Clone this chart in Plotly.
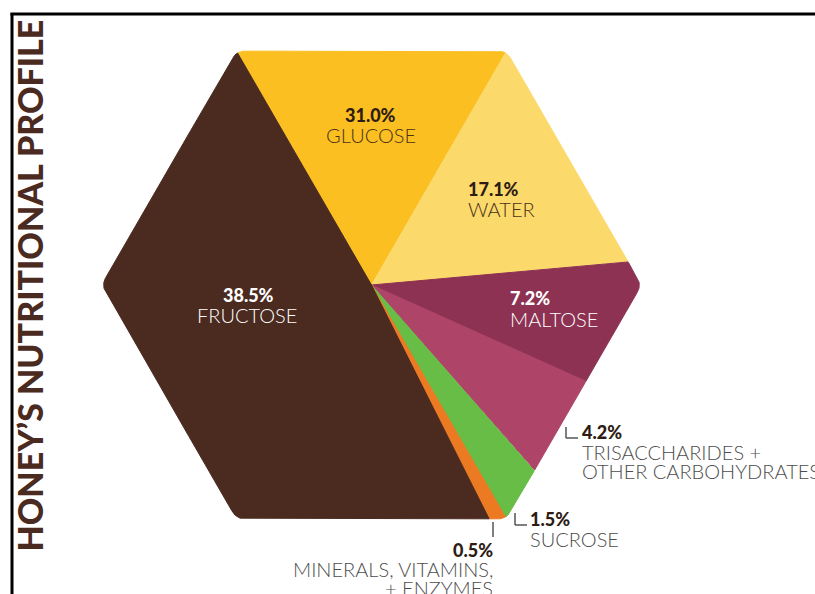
import numpy as np
import plotly.graph_objects as go

# ---------------- data ----------------
# components listed clockwise from the top-left corner of the hexagon
components = ["GLUCOSE", "WATER", "MALTOSE", "TRISACCHARIDES + OTHER CARBOHYDRATES",
              "SUCROSE", "MINERALS, VITAMINS, + ENZYMES", "FRUCTOSE"]
percent = [31.0, 17.1, 7.2, 4.2, 1.5, 0.5, 38.5]
# angular extent of each slice as drawn in the (not-to-scale) infographic, degrees
slice_span_deg = [60.0, 54.7, 29.5, 24.4, 11.4, 3.3, 176.7]
title_text = "HONEY\u2019S NUTRITIONAL PROFILE"

# ---------------- style / layout ----------------
colors = ["#fbbf22", "#fcd96b", "#8d3252", "#ae4468", "#67bd45", "#ec7a23", "#4b2a1f"]
W, H = 815, 594
CX, CY, RPX = 371.5, 285.0, 270.0   # hexagon centre and circumradius in px
START_DEG = 120.0                    # first slice starts at the top-left corner
CORNER = 14.0 / RPX                  # corner rounding radius (units of R)


def to_data(px, py):
    return (px - CX) / RPX, (CY - py) / RPX


def rounded_hex_profile(rc):
    d = rc / np.sin(np.pi / 3)
    pts = []
    for k in range(6):
        th = np.deg2rad(60 * k)
        c = (1 - d) * np.array([np.cos(th), np.sin(th)])
        a = np.linspace(th - np.pi / 6, th + np.pi / 6, 80)
        arc = c[:, None] + rc * np.vstack([np.cos(a), np.sin(a)])
        pts.append(arc.T)
        th2 = np.deg2rad(60 * (k + 1))
        c2 = (1 - d) * np.array([np.cos(th2), np.sin(th2)])
        a2 = th2 - np.pi / 6
        p_end = arc[:, -1]
        p_next = c2 + rc * np.array([np.cos(a2), np.sin(a2)])
        t = np.linspace(0, 1, 300)[1:-1]
        pts.append(p_end[None, :] * (1 - t[:, None]) + p_next[None, :] * t[:, None])
    P = np.vstack(pts)
    th = np.arctan2(P[:, 1], P[:, 0])
    r = np.hypot(P[:, 0], P[:, 1])
    o = np.argsort(th)
    return th[o], r[o]


TH, RR = rounded_hex_profile(CORNER)


def radius_at(theta):
    t = (theta + np.pi) % (2 * np.pi) - np.pi
    return np.interp(t, TH, RR, period=2 * np.pi)


fig = go.Figure()
angle = START_DEG
for name, span, col in zip(components, slice_span_deg, colors):
    a0, a1 = angle, angle - span          # clockwise
    m = max(int(span * 6), 12)
    th = np.deg2rad(np.linspace(a0, a1, m))
    r = radius_at(th)
    xs = np.concatenate([[0], r * np.cos(th), [0]])
    ys = np.concatenate([[0], r * np.sin(th), [0]])
    fig.add_trace(go.Scatter(x=xs, y=ys, mode="lines", fill="toself",
                             fillcolor=col, line=dict(color=col, width=1),
                             hoverinfo="skip", name=name))
    angle = a1

PCT = dict(family="Lato, Roboto, sans-serif", size=18, weight=900)
NAME = dict(family="Lato, Roboto, sans-serif", size=20, weight=300)
DARK = "#2e1c14"
GREY = "#4d4d4d"

annotations = []


def add_text(text, px, py, font, color, xanchor="center"):
    x, y = to_data(px, py)
    f = dict(font)
    f["color"] = color
    annotations.append(dict(text=text, x=x, y=y, xref="x", yref="y",
                            xanchor=xanchor, yanchor="middle", showarrow=False,
                            borderpad=0, font=f))


fmt = {c: f"{p:.1f}%" for c, p in zip(components, percent)}

# inside labels
add_text(fmt["FRUCTOSE"], 248, 295, PCT, "#ffffff")
add_text("FRUCTOSE", 247, 315, NAME, "#ffffff")
add_text(fmt["GLUCOSE"], 370, 115, PCT, DARK)
add_text("GLUCOSE", 371, 135, NAME, "#4a3318")
add_text(fmt["WATER"], 467, 189, PCT, DARK, "left")
add_text("WATER", 467, 209, NAME, "#4a3318", "left")
add_text(fmt["MALTOSE"], 509, 298, PCT, "#ffffff", "left")
add_text("MALTOSE", 509, 319, NAME, "#ffffff", "left")

# outside labels
add_text(fmt["TRISACCHARIDES + OTHER CARBOHYDRATES"], 581, 432, PCT, DARK, "left")
add_text("TRISACCHARIDES +", 581, 452, NAME, GREY, "left")
add_text("OTHER CARBOHYDRATES", 581, 471, NAME, GREY, "left")
add_text(fmt["SUCROSE"], 529, 519, PCT, DARK, "left")
add_text("SUCROSE", 529, 539, NAME, GREY, "left")
add_text(fmt["MINERALS, VITAMINS, + ENZYMES"], 494, 550, PCT, DARK, "right")
add_text("MINERALS, VITAMINS,", 494, 569, NAME, GREY, "right")
add_text("+ ENZYMES", 494, 588, NAME, GREY, "right")

# title
tx, ty = to_data(28.5, 286)
annotations.append(dict(text=title_text, x=tx, y=ty, xref="x", yref="y",
                        textangle=-90, showarrow=False, xanchor="center", yanchor="middle",
                        font=dict(family="Lato, Roboto, sans-serif", size=34, weight=900,
                                  color="#4b2a1f")))

shapes = []


def seg(p, q, color="#555555", width=1.5):
    x0, y0 = to_data(*p)
    x1, y1 = to_data(*q)
    shapes.append(dict(type="line", xref="x", yref="y", x0=x0, y0=y0, x1=x1, y1=y1,
                       line=dict(color=color, width=width)))


# leader ticks
seg((566, 427), (566, 438)); seg((566, 438), (578, 438))
seg((515, 513), (515, 525)); seg((515, 525), (527, 525))
seg((493, 522), (493, 537))

# frame (left + top)
shapes.append(dict(type="line", xref="paper", yref="paper", x0=12 / W, x1=12 / W,
                   y0=0, y1=1 - 13 / H, line=dict(color="#000000", width=3)))
shapes.append(dict(type="line", xref="paper", yref="paper", x0=10.5 / W, x1=1,
                   y0=1 - 14 / H, y1=1 - 14 / H, line=dict(color="#000000", width=3)))

fig.update_layout(
    width=W, height=H,
    margin=dict(l=0, r=0, t=0, b=0),
    paper_bgcolor="#ffffff", plot_bgcolor="#ffffff",
    showlegend=False,
    xaxis=dict(range=[(0 - CX) / RPX, (W - CX) / RPX], visible=False, fixedrange=True),
    yaxis=dict(range=[(CY - H) / RPX, CY / RPX], visible=False, fixedrange=True),
    annotations=annotations, shapes=shapes,
)

fig.write_html("out.html")
